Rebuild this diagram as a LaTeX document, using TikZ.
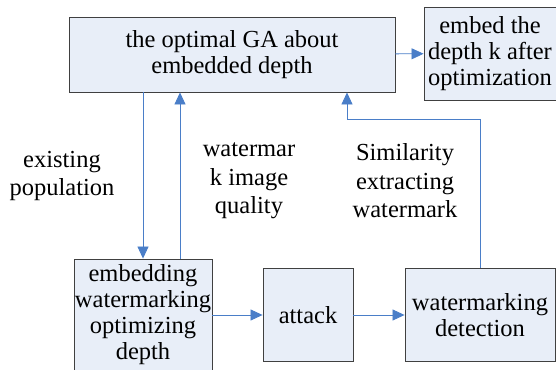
\documentclass[tikz,border=0pt]{standalone}
\usepackage{fontspec}
\setmainfont{Liberation Serif}
\usetikzlibrary{arrows.meta}
\definecolor{boxfill}{HTML}{E8EEF8}
\definecolor{flowblue}{HTML}{4A7EC8}

\begin{document}
\begin{tikzpicture}[x=1pt,y=1pt,>={Triangle[length=12pt,width=11pt]}]
 \tikzstyle{blocknode} = [draw=black!75,line width=0.9pt,fill=boxfill,inner sep=0,align=center,font=\fontsize{24.5}{26}\selectfont]
 \tikzstyle{labelnode} = [align=center,font=\fontsize{24.5}{28.5}\selectfont]
 \tikzstyle{flow} = [draw=flowblue,fill=none,line width=0.8pt]
 \useasboundingbox (0,0) rectangle (556,369);

 \node[blocknode,minimum width=326,minimum height=75] (opt) at (232,314.5) {the optimal GA about\\embedded depth};
 \node[blocknode,minimum width=132,minimum height=93] (emk) at (490,315.5) {embed the\\depth k after\\optimization};
 \node[blocknode,minimum width=138,minimum height=112] (emw) at (143,54) {embedding\\watermarking\\optimizing\\depth};
 \node[blocknode,minimum width=90,minimum height=93] (att) at (308,54) {attack};
 \node[blocknode,minimum width=150,minimum height=93] (det) at (480,54) {watermarking\\detection};

 \node[labelnode] (pop) at (62,193) {existing\\population};
 \node[labelnode] (qual) at (249,188) {watermar\\k image\\quality};
 \node[labelnode] (sim) at (405,188) {Similarity\\extracting\\watermark};

 \coordinate (fb) at (347,250);
 \draw[flow,->] (opt) -- (emk);
 \draw[flow,->] (opt.south -| emw.north) -- (emw.north);
 \draw[flow,->] ([xshift=37pt]emw.north) -- ([xshift=37pt]emw.north |- opt.south);
 \draw[flow,->] (det.north) |- (fb) -- (fb |- opt.south);
 \draw[flow,->] (emw) -- (att);
 \draw[flow,->] (att) -- (det);
\end{tikzpicture}
\end{document}
